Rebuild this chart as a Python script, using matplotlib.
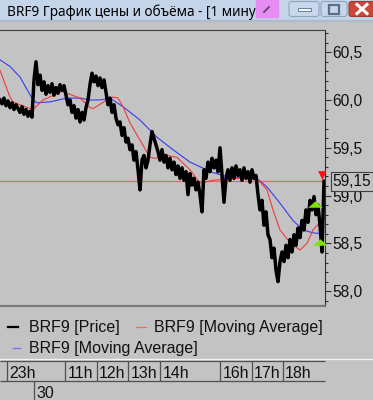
import matplotlib
matplotlib.use('Agg')
import matplotlib.pyplot as plt
from matplotlib.patches import Rectangle, FancyBboxPatch
from matplotlib.lines import Line2D
from matplotlib.ticker import MultipleLocator, FuncFormatter
from matplotlib.transforms import blended_transform_factory

# ---------------- data ----------------
title = "BRF9 График цены и объёма - [1 минут"

# price samples (one every ~4 minutes)
price = [
    60.00, 59.96, 60.02, 59.94, 59.99, 59.92, 59.97, 59.90, 59.95, 59.91, 59.87, 59.93, 59.85, 59.90, 59.83, 59.88, 59.82,
    60.21, 60.40, 60.16, 60.26, 60.10, 60.19, 60.06, 60.15, 60.08, 60.17, 60.05, 60.13, 60.07, 60.16, 60.10, 60.15, 60.05,
    59.95, 60.00, 59.87, 59.94, 59.81, 59.90, 59.77, 59.87, 59.79, 59.92, 60.00,
    60.16, 60.28, 60.19, 60.25, 60.15, 60.23, 60.13, 60.21, 60.08,
    59.95, 60.02, 59.87, 59.95, 59.81, 59.74, 59.77, 59.63, 59.71, 59.56, 59.60, 59.48, 59.53, 59.37, 59.46, 59.27, 59.06,
    59.37, 59.42, 59.29, 59.37,
    59.53, 59.67, 59.60, 59.53, 59.46, 59.37, 59.48, 59.35, 59.42, 59.29, 59.39, 59.27, 59.35, 59.22, 59.31, 59.18, 59.29,
    59.16, 59.25, 59.01,
    59.23, 59.11, 59.18, 59.06, 59.14, 59.01, 58.83, 59.27, 59.18, 59.35, 59.25, 59.39, 59.29, 59.37, 59.25, 59.50, 59.22,
    58.93, 59.18, 59.27, 59.16, 59.29, 59.18, 59.31, 59.21, 59.27, 59.16, 59.29, 59.18, 59.25, 59.14, 59.27, 59.18, 59.21,
    59.01, 58.85, 58.95, 58.69, 58.83, 58.59, 58.54, 58.35, 58.45, 58.22, 58.10, 58.31, 58.41, 58.31, 58.48, 58.35, 58.54,
    58.41, 58.59, 58.48, 58.66, 58.56, 58.74, 58.64, 58.85, 58.72, 58.95, 58.85, 58.99, 58.80, 58.90, 58.69, 58.41, 59.15,
]

red_ma_idx = [0, 5, 6.5, 10, 16.5, 21.5, 31, 33.5, 40, 45,
              46.5, 53.5, 56.5, 59, 61.5, 65, 70, 75, 77.5, 83.5,
              88.5, 95, 100, 106.5, 116.5, 128.5, 133.5, 136.5, 140, 145,
              150, 153.5, 156.5, 160, 162.5]
red_ma = [60.31, 60.03, 59.98, 59.95, 59.90, 60.00, 60.09, 60.07, 60.02, 59.92,
          59.91, 60.00, 60.03, 60.02, 59.93, 59.76, 59.58, 59.40, 59.39, 59.42,
          59.40, 59.27, 59.13, 59.16, 59.18, 59.18, 59.06, 58.85, 58.64, 58.51,
          58.43, 58.50, 58.64, 58.72, 58.77]

blue_ma_idx = [0, 5, 10, 16.5, 18.5, 25, 33.5, 40, 45, 50, 55, 61.5, 70, 78.5, 86.5,
               95, 106.5, 115, 128.5, 133.5, 140, 146.5, 151.5, 156.5, 161.5]
blue_ma = [60.42, 60.35, 60.24, 60.00, 59.97, 59.98, 60.02, 60.02, 60.00, 60.00, 60.02, 59.93, 59.79, 59.61, 59.48,
           59.35, 59.24, 59.19, 59.18, 59.09, 58.92, 58.74, 58.64, 58.61, 58.60]

last_price = 59.15
buy_idx = [157.5, 160.0]
buy_price = [58.91, 58.51]
sell_idx = [161.0]
sell_price = [59.22]

hour_labels = ['23h', '11h', '12h', '13h', '14h', '16h', '17h', '18h']
hour_pos = [3.6, 32.5, 48.4, 64.2, 80.0, 110.0, 125.9, 141.4]
day_labels = ['30']
day_pos = [17.0]

legend_labels = ['BRF9 [Price]', 'BRF9 [Moving Average]', 'BRF9 [Moving Average]']

# ---------------- style ----------------
W, H = 373, 400
BG = '#c3c3c3'
RED = '#f03a3a'
BLUE = '#3a3af0'
FONT = 'Liberation Sans'
plt.rcParams['font.family'] = [FONT, 'DejaVu Sans']

fig = plt.figure(figsize=(W / 100, H / 100), dpi=100, facecolor=BG)

# main price axes
ax = fig.add_axes([0, 94 / H, 325 / W, 276 / H])
ax.set_facecolor(BG)
ax.set_xlim(0, 162.5)
ax.set_ylim(57.845, 60.732)

ax.axhline(last_price, color='#e46868', lw=0.9, zorder=2)
ax.plot(blue_ma_idx, blue_ma, color=BLUE, lw=0.8, zorder=3, label=legend_labels[2])
ax.plot(red_ma_idx, red_ma, color=RED, lw=0.8, zorder=3, label=legend_labels[1])
ax.plot(range(len(price)), price, color='black', lw=2.5, zorder=4, label=legend_labels[0])
tri = [(-1.0, -0.45), (1.0, -0.45), (0.0, 0.45)]
ax.scatter(buy_idx, buy_price, marker=tri, s=110, color='#7ee000', zorder=5, linewidths=0)
ax.scatter(sell_idx, sell_price, marker='v', s=40, color='#ff1010', zorder=5, linewidths=0)

ax.spines['left'].set_visible(False)
ax.spines['top'].set_color('#404040')
ax.spines['top'].set_linewidth(0.8)
ax.spines['right'].set_color('#303030')
ax.spines['right'].set_linewidth(0.8)
ax.spines['bottom'].set_color('#7a7a7a')
ax.spines['bottom'].set_linewidth(1.6)

ax.set_xticks([])
ax.yaxis.tick_right()
ax.yaxis.set_major_locator(MultipleLocator(0.5))
ax.yaxis.set_minor_locator(MultipleLocator(0.1))
ax.yaxis.set_major_formatter(FuncFormatter(lambda v, p: f'{v:.1f}'.replace('.', ',')))
ax.tick_params(axis='y', which='major', direction='out', length=4, width=0.8, color='#303030',
               pad=1.5, labelsize=11.2, labelcolor='#111111')
ax.tick_params(axis='y', which='minor', direction='out', length=2.5, width=0.8, color='#303030')

trans = blended_transform_factory(ax.transAxes, ax.transData)
ax.text(1.0 + 7.5 / 325, last_price, f'{last_price:.2f}'.replace('.', ','), transform=trans,
        ha='left', va='center', fontsize=11.2, color='#111111', zorder=10, clip_on=False,
        bbox=dict(boxstyle='square,pad=0.12', fc=BG, ec='#404040', lw=0.8))

# time axis rows
axt = fig.add_axes([0, 0, 325 / W, 42 / H], sharex=ax)
axt.set_ylim(400, 358)
axt.axis('off')
axt.hlines([361, 381], 0, 162.5, color='#505050', lw=0.9, clip_on=False)
axt.vlines(hour_pos, 361, 381, color='#505050', lw=0.9, clip_on=False)
axt.vlines(day_pos, 381, 400, color='#505050', lw=0.9, clip_on=False)
for lab, pos in zip(hour_labels, hour_pos):
    axt.text(pos + 1.2, 378, lab, ha='left', va='baseline', fontsize=11.4, color='#111111')
for lab, pos in zip(day_labels, day_pos):
    axt.text(pos + 1.2, 398, lab, ha='left', va='baseline', fontsize=11.4, color='#111111')
axt.set_xlim(0, 162.5)

# overlay for window chrome and legend (pixel coordinates)
ov = fig.add_axes([0, 0, 1, 1], zorder=20)
ov.set_xlim(0, W)
ov.set_ylim(H, 0)
ov.axis('off')
ov.patch.set_alpha(0)

# title bar
ov.add_patch(Rectangle((0, 0), W, 20, color='#c4d5e9', zorder=1))
ov.add_patch(Rectangle((0, 20), W, 1, color='#b0bccb', zorder=1))
ov.text(7, 16.5, title, ha='left', va='baseline', fontsize=9.8, family='Noto Sans', color='black', zorder=2)
ov.add_patch(Rectangle((256, 0), 22, 17, color='#e68cf2', zorder=3))
ov.add_line(Line2D([264, 269], [12, 7], color='#604060', lw=1.2, zorder=4))
for x0, w, fc, ec in [(289, 30, '#c8d7ea', '#90a4bf'), (321, 26, '#c8d7ea', '#90a4bf'), (349, 26, '#c8463a', '#9a3a30')]:
    ov.add_patch(FancyBboxPatch((x0, 1.5), w, 15, boxstyle='round,pad=0,rounding_size=2.5',
                                fc=fc, ec=ec, lw=0.8, zorder=3))
ov.add_patch(Rectangle((298, 8), 13, 3, fc='#f4f8fc', ec='#5a6f8a', lw=0.6, zorder=4))
ov.add_patch(Rectangle((329, 4.5), 10, 9, fc='none', ec='#5a6f8a', lw=1.6, zorder=4))
ov.add_line(Line2D([357, 367], [4.5, 13.5], color='white', lw=2.2, zorder=4))
ov.add_line(Line2D([357, 367], [13.5, 4.5], color='white', lw=2.2, zorder=4))

# separator above time rows
ov.add_line(Line2D([0, W], [358.5, 358.5], color='#f4f4f4', lw=0.9))

# legend
h_price, h_red, h_blue = ax.lines[-1], ax.lines[-2], ax.lines[-3]
ov.add_line(Line2D([8, 18], [326.5, 326.5], color=h_price.get_color(), lw=1.6))
ov.text(29, 332, h_price.get_label(), ha='left', va='baseline', fontsize=11.5, color='#111111')
ov.add_line(Line2D([136, 146], [327, 327], color='#ee6a6a', lw=0.9))
ov.text(154, 332, h_red.get_label(), ha='left', va='baseline', fontsize=11.5, color='#111111')
ov.add_line(Line2D([13, 20], [348, 348], color='#7070f0', lw=0.9))
ov.text(29, 353, h_blue.get_label(), ha='left', va='baseline', fontsize=11.5, color='#111111')

fig.savefig('out.png', dpi=100, facecolor=BG)
